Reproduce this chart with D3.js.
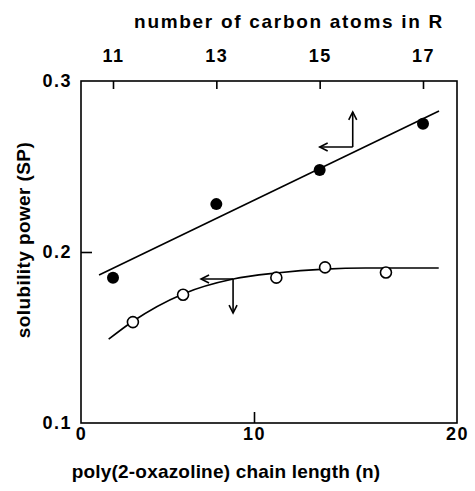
<!DOCTYPE html>
<html>
<head>
<meta charset="utf-8">
<script src="https://cdn.jsdelivr.net/npm/d3@7"></script>
<style>
  body { margin: 0; background: #fff; }
  text { font-family: "Liberation Sans", Arial, sans-serif; font-weight: bold; fill: #000; }
</style>
</head>
<body>
<script>
// axis ticks
const carbonTicks = [11, 13, 15, 17];
const chainTicks = [0, 10, 20];
const spTicks = [0.1, 0.2, 0.3];

// filled circles: SP vs number of carbon atoms in R (top axis)
const carbonAtoms = [11, 13, 15, 17];
const spFilled = [0.185, 0.228, 0.248, 0.275];
const filledFitC = [10.73, 17.31];
const filledFitSP = [0.1865, 0.2825];

// open circles: SP vs chain length n (bottom axis)
const chainLength = [3, 5.9, 11.1, 13.5, 16.5];
const spOpen = [0.159, 0.175, 0.185, 0.191, 0.188];
const openCurveN = [1.6, 3.0, 5.9, 8.8, 11.1, 13.5, 15.5, 19.1];
const openCurveSP = [0.149, 0.1595, 0.1755, 0.1842, 0.1877, 0.1900, 0.1906, 0.1906];

const width = 475, height = 491;

const svg = d3.select('body').append('svg')
  .attr('width', width)
  .attr('height', height);

// the printed bottom axis is not evenly spaced, keep that
const x = d3.scaleLinear().domain([0, 10, 20]).range([81, 254, 457]);
const xTop = d3.scaleLinear().domain([11, 17]).range([113, 423]);
const y = d3.scaleLinear().domain([0.1, 0.3]).range([423, 81]);

svg.append('defs').append('marker')
  .attr('id', 'head')
  .attr('viewBox', '-10 -6 12 12')
  .attr('refX', 0).attr('refY', 0)
  .attr('markerWidth', 12).attr('markerHeight', 12)
  .attr('markerUnits', 'userSpaceOnUse')
  .attr('orient', 'auto')
  .append('path')
  .attr('d', 'M-8,-4L0,0L-8,4')
  .attr('fill', 'none')
  .attr('stroke', '#000')
  .attr('stroke-width', 1.6);

// frame
svg.append('rect')
  .attr('x', x(0)).attr('y', y(0.3))
  .attr('width', x(20) - x(0)).attr('height', y(0.1) - y(0.3))
  .attr('fill', 'none')
  .attr('stroke', '#000')
  .attr('stroke-width', 1.6);

function styleAxis(g) {
  g.select('.domain').remove();
  g.selectAll('.tick line').attr('stroke', '#000').attr('stroke-width', 1.6);
  g.selectAll('.tick text')
    .attr('font-size', 18)
    .attr('letter-spacing', 1.5)
    .attr('fill', '#000');
}

svg.append('g')
  .attr('transform', `translate(0,${y(0.1)})`)
  .call(d3.axisBottom(x).tickValues(chainTicks).tickFormat(d3.format('d'))
    .tickSizeInner(-11).tickSizeOuter(0).tickPadding(4))
  .call(styleAxis)
  .call(g => g.selectAll('.tick').filter(d => d !== 10).select('line').remove());

svg.append('g')
  .attr('transform', `translate(0,${y(0.3)})`)
  .call(d3.axisTop(xTop).tickValues(carbonTicks).tickFormat(d3.format('d'))
    .tickSizeInner(-8).tickSizeOuter(0).tickPadding(19))
  .call(styleAxis);

svg.append('g')
  .attr('transform', `translate(${x(0)},0)`)
  .call(d3.axisLeft(y).tickValues(spTicks).tickFormat(d3.format('.1f'))
    .tickSizeInner(-11).tickSizeOuter(0).tickPadding(9))
  .call(styleAxis)
  .call(g => g.selectAll('.tick').filter(d => d !== 0.2).select('line').remove());

// titles
svg.append('text')
  .attr('x', 289).attr('y', 28)
  .attr('text-anchor', 'middle')
  .attr('font-size', 19)
  .attr('letter-spacing', 1.7)
  .text('number of carbon atoms in R');

svg.append('text')
  .attr('x', 226).attr('y', 478)
  .attr('text-anchor', 'middle')
  .attr('font-size', 19)
  .attr('letter-spacing', 0.2)
  .text('poly(2-oxazoline) chain length (n)');

svg.append('text')
  .attr('transform', 'translate(30,240) rotate(-90)')
  .attr('text-anchor', 'middle')
  .attr('font-size', 19)
  .attr('letter-spacing', 0.4)
  .text('solubility power (SP)');

// fitted lines
svg.append('path')
  .datum(d3.zip(filledFitC, filledFitSP))
  .attr('fill', 'none')
  .attr('stroke', '#000')
  .attr('stroke-width', 1.6)
  .attr('d', d3.line().x(d => xTop(d[0])).y(d => y(d[1])));

svg.append('path')
  .datum(d3.zip(openCurveN, openCurveSP))
  .attr('fill', 'none')
  .attr('stroke', '#000')
  .attr('stroke-width', 1.6)
  .attr('d', d3.line().curve(d3.curveMonotoneX).x(d => x(d[0])).y(d => y(d[1])));

// points
svg.append('g').selectAll('circle')
  .data(d3.zip(carbonAtoms, spFilled))
  .join('circle')
  .attr('cx', d => xTop(d[0]))
  .attr('cy', d => y(d[1]))
  .attr('r', 6)
  .attr('fill', '#000');

svg.append('g').selectAll('circle')
  .data(d3.zip(chainLength, spOpen))
  .join('circle')
  .attr('cx', d => x(d[0]))
  .attr('cy', d => y(d[1]))
  .attr('r', 5.5)
  .attr('fill', '#fff')
  .attr('stroke', '#000')
  .attr('stroke-width', 1.6);

// axis pointers: filled -> left & top axes, open -> left & bottom axes
const pointers = [
  { corner: [xTop(15.64), y(0.2614)], tips: [[xTop(15.0), y(0.2614)], [xTop(15.64), y(0.2819)]] },
  { corner: [x(8.79), y(0.1842)], tips: [[x(6.94), y(0.1842)], [x(8.79), y(0.1643)]] }
];

pointers.forEach(p => {
  p.tips.forEach(t => {
    svg.append('path')
      .attr('d', d3.line()([p.corner, t]))
      .attr('stroke', '#000')
      .attr('stroke-width', 1.6)
      .attr('fill', 'none')
      .attr('marker-end', 'url(#head)');
  });
});
</script>
</body>
</html>
